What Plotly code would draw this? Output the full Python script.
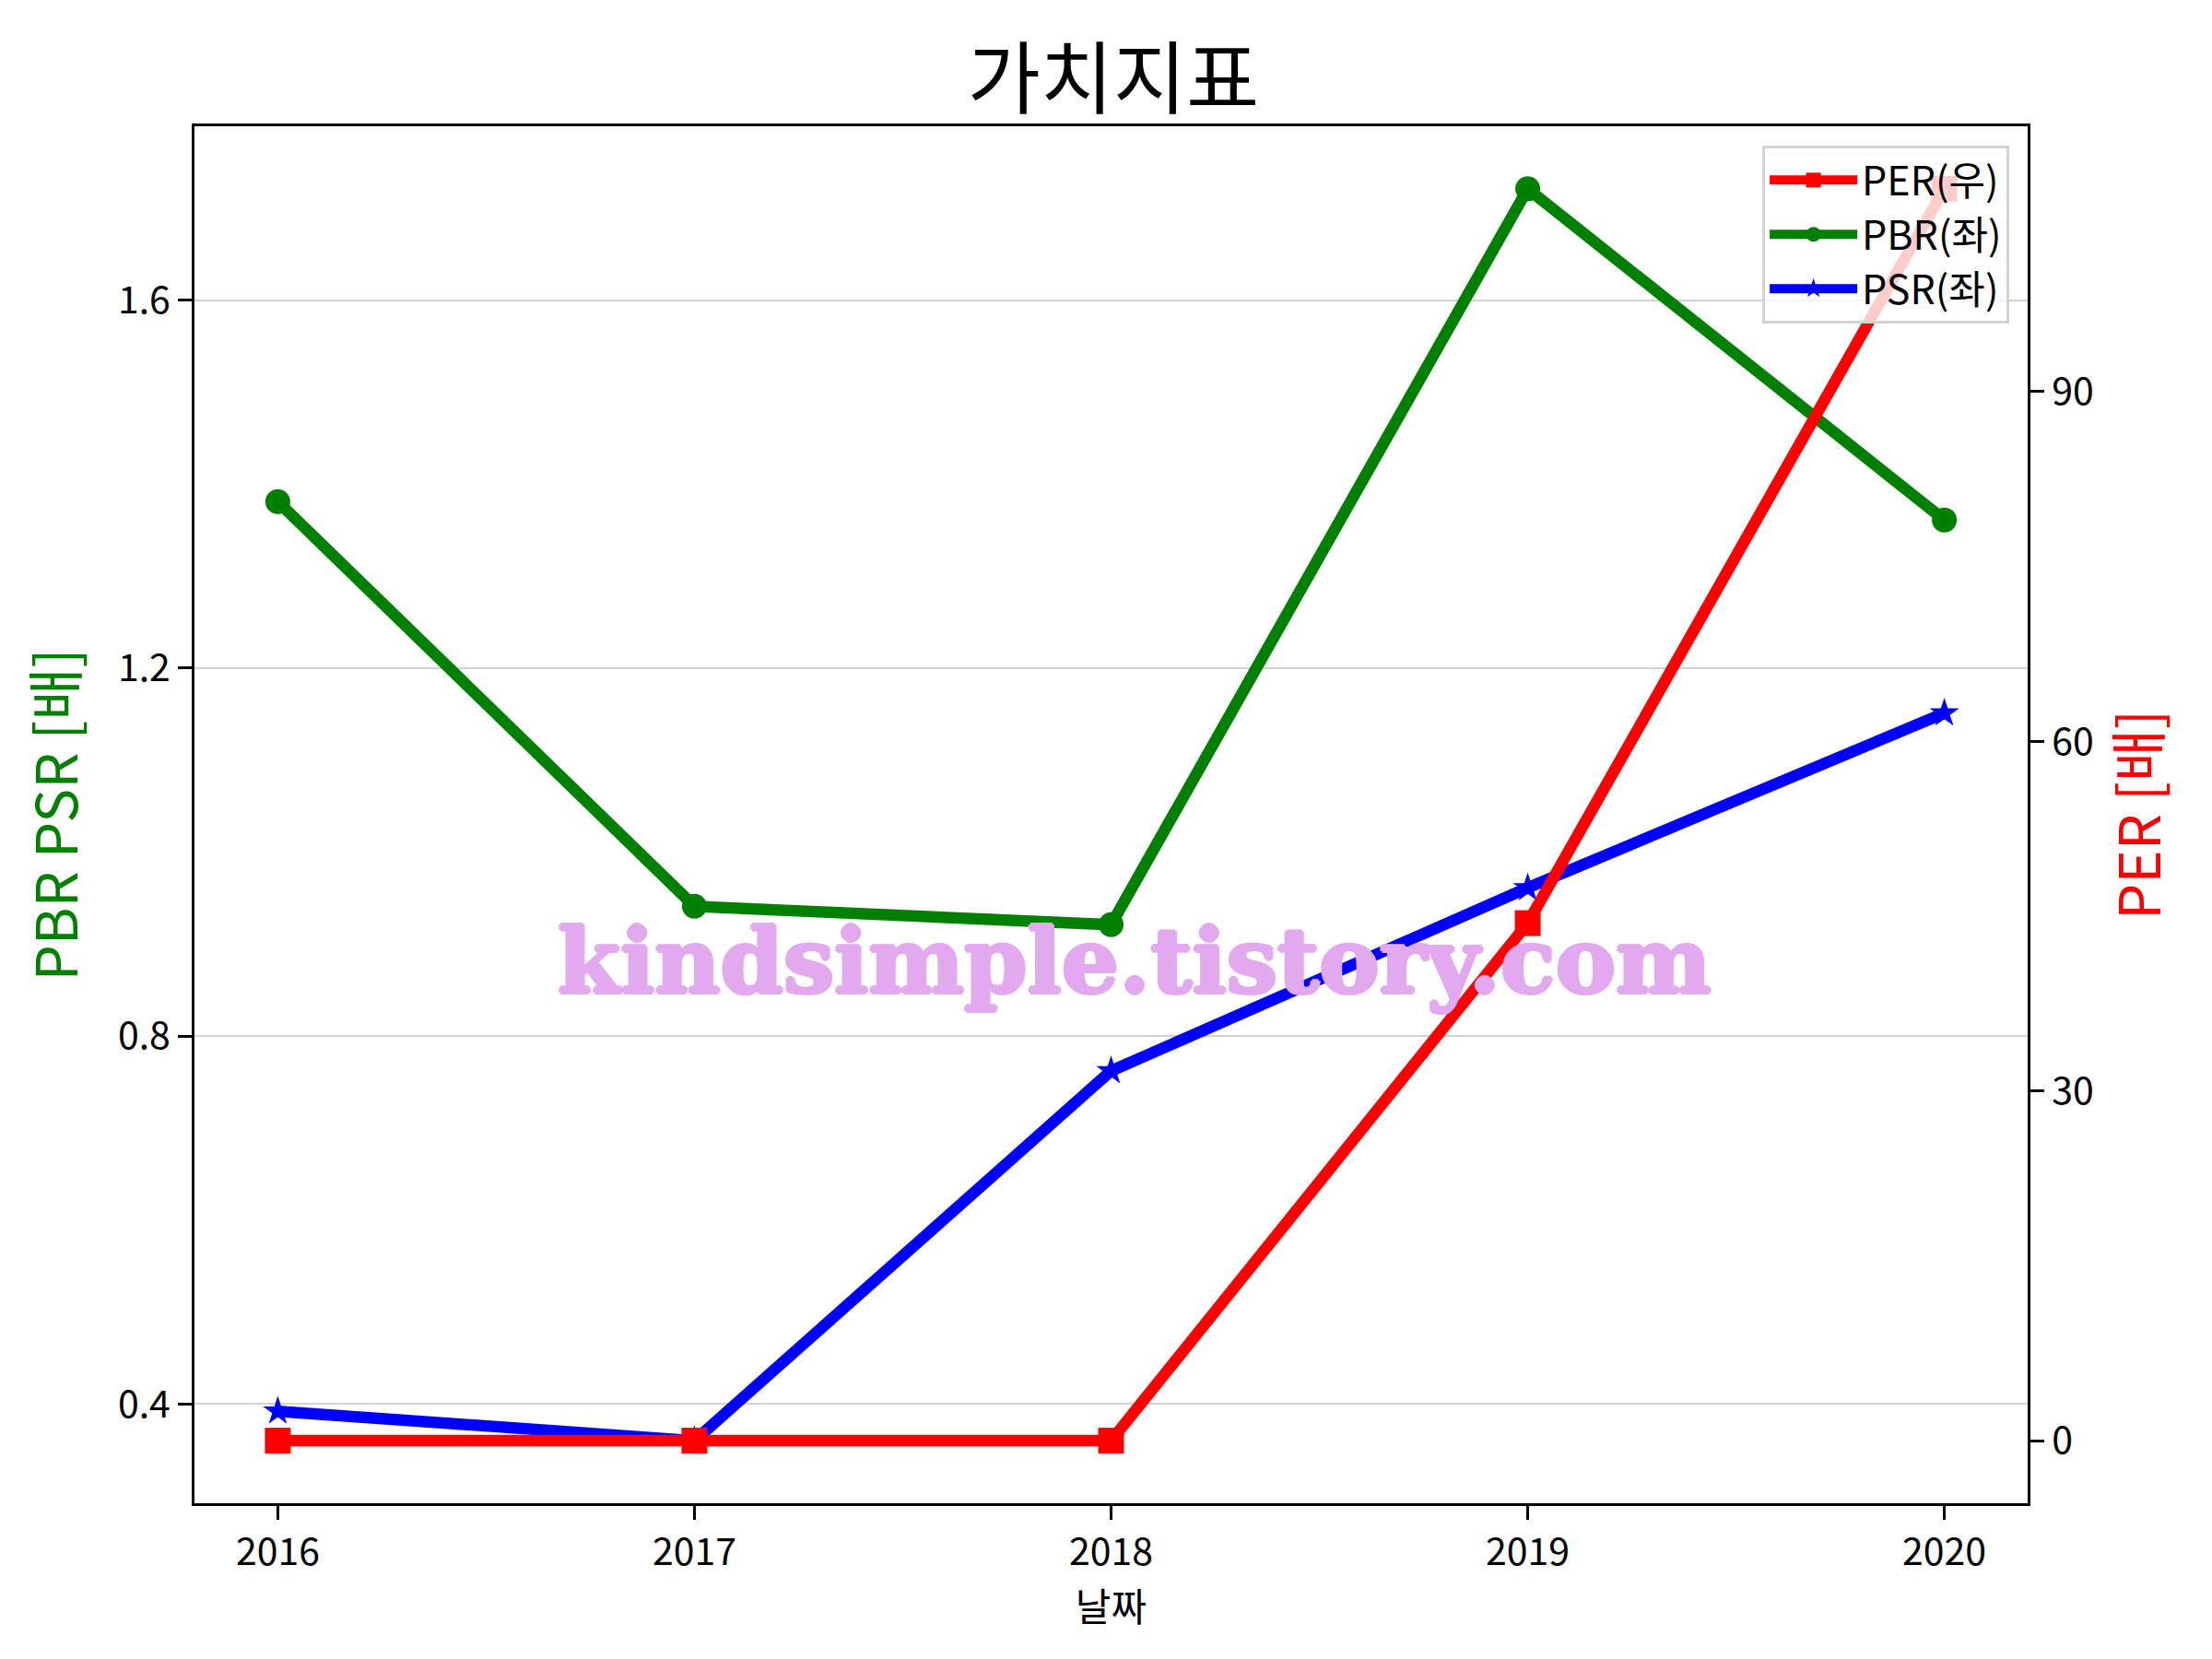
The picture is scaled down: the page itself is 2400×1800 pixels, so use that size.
import plotly.graph_objs as go

# values
years = [2016, 2017, 2018, 2019, 2020]
pbr = [1.381, 0.941, 0.921, 1.721, 1.361]
psr = [0.392, 0.360, 0.762, 0.961, 1.151]
per = [0.0, 0.0, 0.0, 44.4, 107.4]

FONT = "Noto Sans CJK KR"
WM = "#e3a9ef"


def main():
    fig = go.Figure()
    fig.add_trace(go.Scatter(
        x=years, y=pbr, name="PBR(좌)", mode="lines+markers",
        line=dict(color="green", width=12.5),
        marker=dict(symbol="circle", size=27, color="green"),
        legendrank=2,
    ))
    fig.add_trace(go.Scatter(
        x=years, y=psr, name="PSR(좌)", mode="lines+markers",
        line=dict(color="blue", width=12.5),
        marker=dict(symbol="star", size=24, color="blue"),
        legendrank=3,
    ))
    fig.add_trace(go.Scatter(
        x=years, y=per, name="PER(우)", mode="lines+markers", yaxis="y2",
        line=dict(color="red", width=12.5),
        marker=dict(symbol="square", size=28, color="red"),
        legendrank=1,
    ))

    axis_common = dict(
        showline=True, linecolor="black", linewidth=3,
        ticks="outside", ticklen=15, tickwidth=3, tickcolor="black",
        tickfont=dict(family=FONT, size=41, color="black"),
        zeroline=False,
    )

    fig.update_layout(
        width=2400, height=1800,
        paper_bgcolor="white", plot_bgcolor="white",
        margin=dict(l=203, r=208, t=129, b=177),
        font=dict(family=FONT, color="black"),
        title=dict(text="가치지표", x=0.5, xanchor="center",
                   y=0.956, yanchor="middle",
                   font=dict(family=FONT, size=86, color="black")),
        xaxis=dict(
            axis_common, range=[2015.8, 2020.2],
            tickvals=years, mirror=True, showgrid=False,
            title=dict(text="날짜", font=dict(family=FONT, size=42),
                       standoff=0),
        ),
        yaxis=dict(
            axis_common, range=[0.292, 1.789],
            tickmode="linear", tick0=0.4, dtick=0.4,
            showgrid=True, gridcolor="#d3d3d3", gridwidth=2,
            title=dict(text="PBR PSR [배]",
                       font=dict(family=FONT, size=62, color="green"),
                       standoff=24),
        ),
        yaxis2=dict(
            axis_common, range=[-5.37, 112.77], overlaying="y",
            side="right", tickmode="linear", tick0=0, dtick=30,
            showgrid=False,
            title=dict(text="PER [배]",
                       font=dict(family=FONT, size=62, color="red"),
                       standoff=12),
        ),
        legend=dict(
            x=0.99, y=0.986, xanchor="right", yanchor="top",
            bgcolor="rgba(255,255,255,0.8)", bordercolor="#d3d3d3",
            borderwidth=3, itemwidth=95,
            font=dict(family=FONT, size=43, color="black"),
        ),
        showlegend=True,
    )

    # blog watermark laid over the plot
    fig.add_annotation(
        text="kindsimple.tistory.com", xref="paper", yref="paper",
        x=0.513, y=0.394, xanchor="center", yanchor="middle",
        showarrow=False,
        font=dict(family="DejaVu Serif", size=98, color=WM,
                  weight="bold",
                  shadow=f"2px 0 0 {WM}, -2px 0 0 {WM}, 0 2px 0 {WM}, 0 -2px 0 {WM}"),
    )

    fig.write_html("out.html")


if __name__ == "__main__":
    main()
